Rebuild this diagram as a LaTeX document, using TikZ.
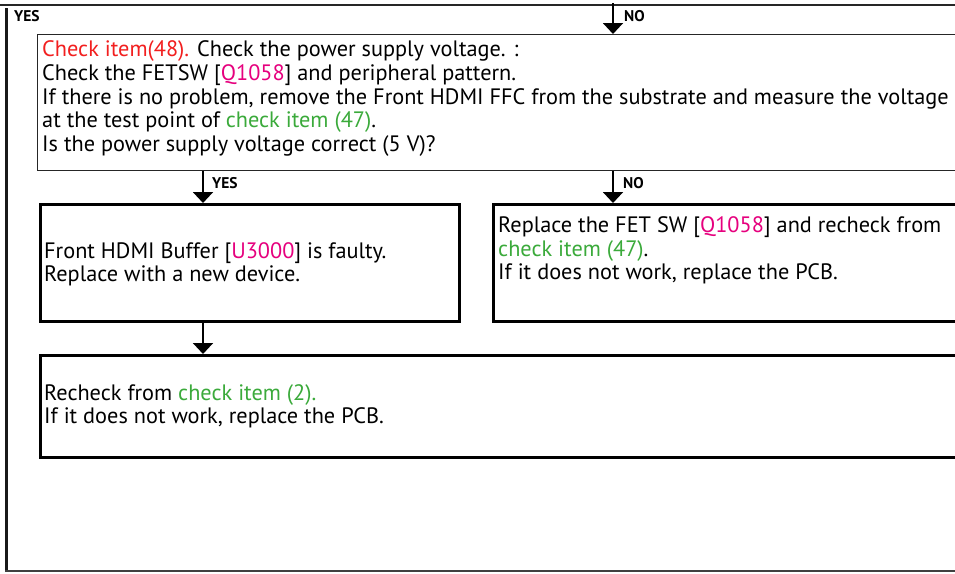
\documentclass[tikz,border=0pt]{standalone}
\usepackage{fontspec}
\setmainfont{PT Sans}
\usetikzlibrary{arrows.meta}
\definecolor{cred}{HTML}{F21F1F}
\definecolor{cmag}{HTML}{E6007E}
\definecolor{cgrn}{HTML}{3BAA3B}
\tikzset{
  thinbox/.style={draw=black!85, line width=1.3pt, rectangle, anchor=north west, inner sep=0pt},
  thickbox/.style={draw=black, line width=3pt, rectangle, anchor=north west, inner sep=0pt},
  txt/.style={anchor=base west, inner sep=0pt, font=\fontsize{22.3}{24}\selectfont},
  lbl/.style={anchor=base west, inner sep=0pt, font=\fontsize{15.5}{16}\selectfont\bfseries},
  arr/.style={line width=2pt, -{Triangle[width=20pt,length=11pt]}},
}
\begin{document}
\begin{tikzpicture}[x=1pt,y=-1pt]
\clip (0,0) rectangle (955,573);
\fill[white] (0,0) rectangle (955,573);
% frame lines
\coordinate (tl) at (0,5);
\coordinate (tr) at (960,5);
\draw[black!85, line width=1.3pt] (tl) -- (tr);
\coordinate (lt) at (6.5,8);
\coordinate (lb) at (6.5,571);
\draw[black!90, line width=2.6pt] (lt) -- (lb);
\coordinate (bl) at (5.2,571);
\coordinate (br) at (960,571);
\draw[black!75, line width=1.3pt] (bl) -- (br);
% boxes
\node[thinbox, minimum width=930pt, minimum height=136pt] (b1) at (37,34) {};
\node[thickbox, minimum width=419pt, minimum height=117pt] (ba) at (39,203) {};
\node[thickbox, minimum width=470pt, minimum height=117pt] (bb) at (492,203) {};
\node[thickbox, minimum width=925pt, minimum height=102pt] (bc) at (39,354) {};
% arrow columns
\coordinate (cx1) at (203,0);
\coordinate (cx2) at (613,0);
\coordinate (nostart) at (613,3);
% labels top
\node[lbl] (yes0) at (14,21) {YES};
\node[lbl] (no0) at (624,21) {NO};
\draw[arr] (nostart) -- (b1.north -| cx2);
% box 1 text
\node[txt] (t11) at (42,56.7) {\textcolor{cred}{Check item(48).} Check the power supply voltage. :};
\node[txt] (t12) at (42,80.4) {Check the FETSW [\textcolor{cmag}{Q1058}] and peripheral pattern.};
\node[txt] (t13) at (42,104.1) {If there is no problem, remove the Front HDMI FFC from the substrate and measure the voltage};
\node[txt] (t14) at (42,127.8) {at the test point of \textcolor{cgrn}{check item (47)}.};
\node[txt] (t15) at (42,151.5) {Is the power supply voltage correct (5 V)?};
% yes / no from box 1
\draw[arr] (b1.south -| cx1) -- (ba.north -| cx1);
\draw[arr] (b1.south -| cx2) -- (bb.north -| cx2);
\node[lbl] (yes1) at (212,188) {YES};
\node[lbl] (no1) at (623,188) {NO};
% box A text
\node[txt] (ta1) at (44,258) {Front HDMI Buffer [\textcolor{cmag}{U3000}] is faulty.};
\node[txt] (ta2) at (44,281.7) {Replace with a new device.};
% box B text
\node[txt] (tb1) at (498,232.5) {Replace the FET SW [\textcolor{cmag}{Q1058}] and recheck from};
\node[txt] (tb2) at (498,256.2) {\textcolor{cgrn}{check item (47)}.};
\node[txt] (tb3) at (498,279.9) {If it does not work, replace the PCB.};
% A -> C
\draw[arr] (ba.south -| cx1) -- (bc.north -| cx1);
% box C text
\node[txt] (tc1) at (44,400) {Recheck from \textcolor{cgrn}{check item (2).}};
\node[txt] (tc2) at (44,423.7) {If it does not work, replace the PCB.};
\end{tikzpicture}
\end{document}
